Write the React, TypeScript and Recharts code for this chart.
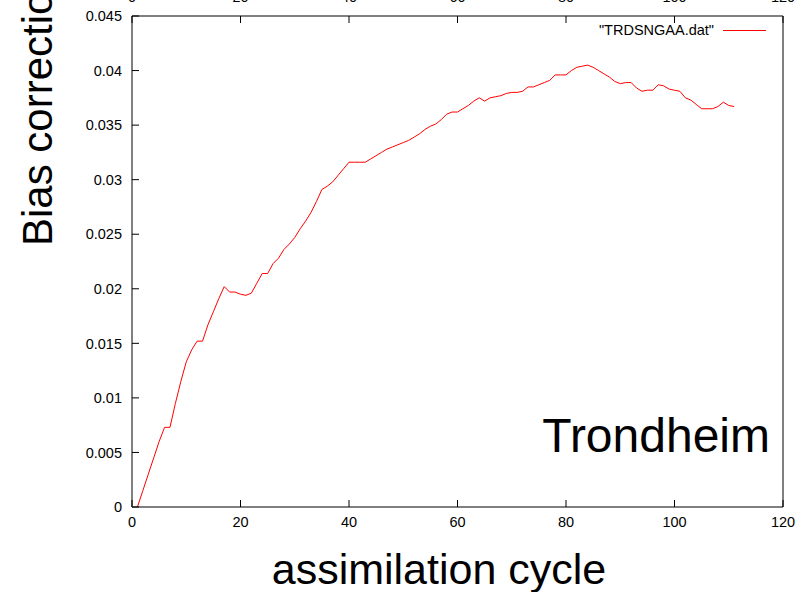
import { LineChart, Line, XAxis, YAxis } from "recharts";

// bias correction per assimilation cycle (cycle 1..111)
const bias = [
  0, 0.0015, 0.003, 0.0045, 0.006, 0.0073, 0.0073, 0.0095, 0.0115, 0.0133,
  0.0144, 0.0152, 0.0152, 0.0167, 0.0179, 0.0191, 0.0202, 0.0197, 0.0197, 0.0195,
  0.0194, 0.0196, 0.0205, 0.0214, 0.0214, 0.0223, 0.0228, 0.0236, 0.0241, 0.0247,
  0.0255, 0.0262, 0.027, 0.028, 0.0291, 0.0294, 0.0298, 0.0304, 0.031, 0.0316,
  0.0316, 0.0316, 0.0316, 0.0319, 0.0322, 0.0325, 0.0328, 0.033, 0.0332, 0.0334,
  0.0336, 0.0339, 0.0342, 0.0346, 0.0349, 0.0351, 0.0355, 0.036, 0.0362, 0.0362,
  0.0365, 0.0368, 0.0372, 0.0375, 0.0372, 0.0375, 0.0376, 0.0377, 0.0379, 0.038,
  0.038, 0.0381, 0.0385, 0.0385, 0.0387, 0.0389, 0.0391, 0.0396, 0.0396, 0.0396,
  0.04, 0.0403, 0.0404, 0.0405, 0.0403, 0.04, 0.0397, 0.0394, 0.039, 0.0388,
  0.0389, 0.0389, 0.0384, 0.0381, 0.0382, 0.0382, 0.0387, 0.0386, 0.0383, 0.0382,
  0.0381, 0.0375, 0.0373, 0.0369, 0.0365, 0.0365, 0.0365, 0.0367, 0.0371, 0.0368,
  0.0367,
];
const xTicks = [0, 20, 40, 60, 80, 100, 120];
const yTicks = [0, 0.005, 0.01, 0.015, 0.02, 0.025, 0.03, 0.035, 0.04, 0.045];
const seriesName = '"TRDSNGAA.dat"';
const xTitle = "assimilation cycle";
const yTitle = "Bias correction";
const station = "Trondheim";

const data = bias.map((b, i) => ({ cycle: i + 1, bias: b }));

const FONT = '"Liberation Sans", Arial, sans-serif';
const TICK = 7;

const BottomTick = ({ x, y, payload }: any) => (
  <g>
    <line x1={x} y1={y} x2={x} y2={y - TICK} stroke="#000" />
    <text x={x} y={y + 20} textAnchor="middle" fontFamily={FONT} fontSize={14.5} fill="#000">
      {payload.value}
    </text>
  </g>
);

// labels of the top axis sit mostly above the page edge, as in the original
const TopTick = ({ x, y, payload }: any) => (
  <g>
    <line x1={x} y1={y} x2={x} y2={y + TICK} stroke="#000" />
    <text x={x} y={y - 14.5} textAnchor="middle" fontFamily={FONT} fontSize={14.5} fill="#000">
      {payload.value}
    </text>
  </g>
);

const LeftTick = ({ x, y, payload }: any) => (
  <g>
    <line x1={x} y1={y} x2={x + TICK} y2={y} stroke="#000" />
    <text x={x - 10} y={y} dy="0.36em" textAnchor="end" fontFamily={FONT} fontSize={14.5} fill="#000">
      {String(payload.value)}
    </text>
  </g>
);

const RightTick = ({ x, y }: any) => (
  <line x1={x} y1={y} x2={x - TICK} y2={y} stroke="#000" />
);

export default function App() {
  return (
    <div style={{ position: "absolute", left: 0, top: 0, width: 807, height: 592, background: "#fff" }}>
      <LineChart width={807} height={592} data={data} margin={{ top: 0, right: 0, bottom: 0, left: 0 }}>
        <XAxis
          xAxisId="b"
          dataKey="cycle"
          type="number"
          domain={[0, 120]}
          ticks={xTicks}
          interval={0}
          height={85}
          tickSize={0}
          tickMargin={0}
          tickLine={false}
          axisLine={{ stroke: "#000" }}
          tick={<BottomTick />}
        />
        <XAxis
          xAxisId="t"
          dataKey="cycle"
          orientation="top"
          type="number"
          domain={[0, 120]}
          ticks={xTicks}
          interval={0}
          height={16}
          tickSize={0}
          tickMargin={0}
          tickLine={false}
          axisLine={{ stroke: "#000" }}
          tick={<TopTick />}
        />
        <YAxis
          yAxisId="l"
          type="number"
          domain={[0, 0.045]}
          ticks={yTicks}
          interval={0}
          width={132}
          tickSize={0}
          tickMargin={0}
          tickLine={false}
          axisLine={{ stroke: "#000" }}
          tick={<LeftTick />}
        />
        <YAxis
          yAxisId="r"
          orientation="right"
          type="number"
          domain={[0, 0.045]}
          ticks={yTicks}
          interval={0}
          width={24}
          tickSize={0}
          tickMargin={0}
          tickLine={false}
          axisLine={{ stroke: "#000" }}
          tick={<RightTick />}
        />
        <Line
          xAxisId="b"
          yAxisId="l"
          dataKey="bias"
          name={seriesName}
          type="linear"
          stroke="#ff0000"
          strokeWidth={1}
          dot={false}
          isAnimationActive={false}
        />
      </LineChart>
      <svg
        width={807}
        height={592}
        style={{ position: "absolute", left: 0, top: 0, pointerEvents: "none" }}
      >
        {/* legend */}
        <text x={714} y={35} textAnchor="end" fontFamily={FONT} fontSize={14.5} fill="#000">
          {seriesName}
        </text>
        <line x1={723} y1={30.5} x2={766} y2={30.5} stroke="#ff0000" />
        <text x={439} y={584} textAnchor="middle" fontFamily={FONT} fontSize={43} fill="#000">
          {xTitle}
        </text>
        <text
          x={52}
          y={246}
          transform="rotate(-90 52 246)"
          textAnchor="start"
          fontFamily={FONT}
          fontSize={42}
          fill="#000"
        >
          {yTitle}
        </text>
        <text x={770} y={452} textAnchor="end" fontFamily={FONT} fontSize={48} fill="#000">
          {station}
        </text>
      </svg>
    </div>
  );
}
